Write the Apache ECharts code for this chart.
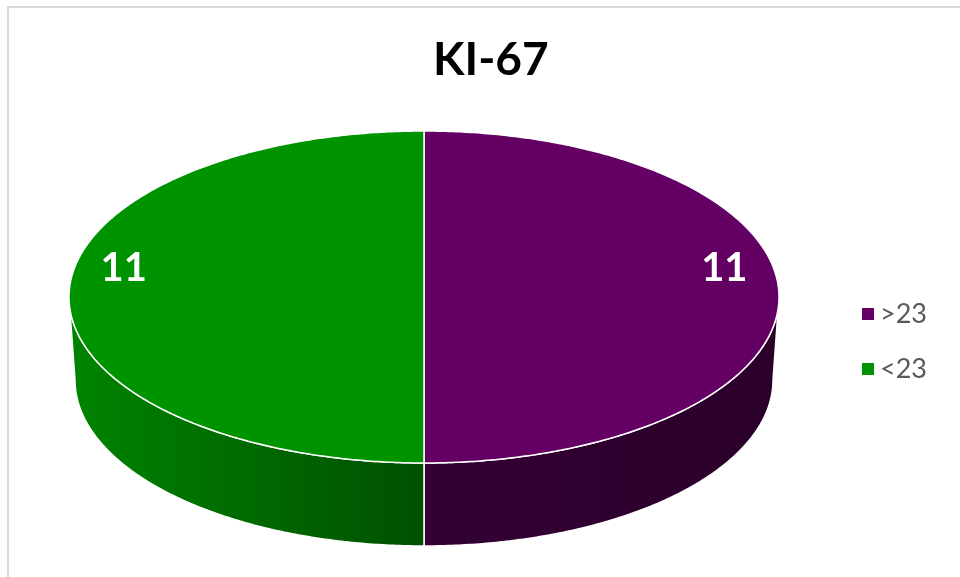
<!DOCTYPE html>
<html>
<head>
<meta charset="utf-8">
<script src="https://cdn.jsdelivr.net/npm/echarts@6/dist/echarts.min.js"></script>
<style>html,body{margin:0;padding:0;background:#fff}#chart{width:960px;height:577px}</style>
</head>
<body>
<div id="chart"></div>
<script>
const titleText = 'KI-67';
const categories = ['>23', '<23'];
const values = [11, 11];

const topColors = ['#640064', '#009300'];
const wallColors = [['#340034', '#2a002a'], ['#008400', '#005000']];

const total = values.reduce((a, b) => a + b, 0);
const geom = { cx: 424, cy: 297, rx: 355, ry: 166, bcx: 424, bcy: 380, brx: 349, bry: 166 };

function angles(idx) {
  let before = 0;
  for (let i = 0; i < idx; i++) before += values[i];
  return [before / total * Math.PI * 2, (before + values[idx]) / total * Math.PI * 2];
}
function pt(cx, cy, rx, ry, t) { return [cx + rx * Math.sin(t), cy - ry * Math.cos(t)]; }
function arc(cx, cy, rx, ry, a, b) {
  const n = Math.max(2, Math.ceil(Math.abs(b - a) / 0.01));
  const out = [];
  for (let i = 0; i <= n; i++) out.push(pt(cx, cy, rx, ry, a + (b - a) * i / n));
  return out;
}

const chart = echarts.init(document.getElementById('chart'));
chart.setOption({
  animation: false,
  title: {
    text: titleText, left: 433, top: 37, padding: 0,
    textStyle: { fontFamily: 'Lato', fontWeight: 'bold', fontSize: 46, color: '#000' }
  },
  legend: {
    orient: 'vertical', left: 857, top: 294, itemWidth: 12, itemHeight: 12, itemGap: 25,
    icon: 'rect', data: categories,
    textStyle: { fontFamily: 'Lato', fontSize: 27, color: '#595959', lineHeight: 30, padding: [0, 0, 0, 1] }
  },
  graphic: [{
    type: 'rect', shape: { x: 8, y: 7, width: 1200, height: 1000 },
    style: { fill: 'none', stroke: '#d9d9d9', lineWidth: 2 }, silent: true, z: 0
  }],
  series: [
    {
      type: 'pie', name: 'legend', radius: 1, center: [-50, -50], silent: true,
      label: { show: false }, labelLine: { show: false },
      data: categories.map((c, i) => ({ name: c, value: values[i], itemStyle: { color: topColors[i] } }))
    },
    {
      type: 'custom', coordinateSystem: 'none', silent: true, z: 2,
      data: values,
      renderItem: function (params, api) {
        const i = params.dataIndex;
        const [s, e] = angles(i);
        const a = Math.max(s, Math.PI / 2), b = Math.min(e, Math.PI * 1.5);
        if (b <= a) return { type: 'group', children: [] };
        const g = geom;
        const pts = arc(g.cx, g.cy, g.rx, g.ry, a, b).concat(arc(g.bcx, g.bcy, g.brx, g.bry, b, a));
        return {
          type: 'polygon', shape: { points: pts },
          style: {
            fill: new echarts.graphic.LinearGradient(0, 0, 1, 0, [
              { offset: 0, color: wallColors[i][0] }, { offset: 1, color: wallColors[i][1] }]),
            stroke: '#fff', lineWidth: 1.5
          }
        };
      }
    },
    {
      type: 'custom', coordinateSystem: 'none', silent: true, z: 3,
      data: values,
      renderItem: function (params, api) {
        const i = params.dataIndex;
        const [s, e] = angles(i);
        const g = geom;
        const pts = [[g.cx, g.cy]].concat(arc(g.cx, g.cy, g.rx, g.ry, s, e));
        const mid = (s + e) / 2;
        return {
          type: 'group',
          children: [
            { type: 'polygon', shape: { points: pts }, style: { fill: topColors[i], stroke: '#fff', lineWidth: 1.5 } },
            {
              type: 'text',
              style: {
                text: String(api.value(0)),
                x: g.cx + g.rx * 0.846 * Math.sin(mid),
                y: g.cy - g.ry * Math.cos(mid) - 29,
                align: 'center', verticalAlign: 'middle',
                fill: '#fff', font: 'bold 40px Lato'
              }
            }
          ]
        };
      }
    }
  ]
});
</script>
</body>
</html>
